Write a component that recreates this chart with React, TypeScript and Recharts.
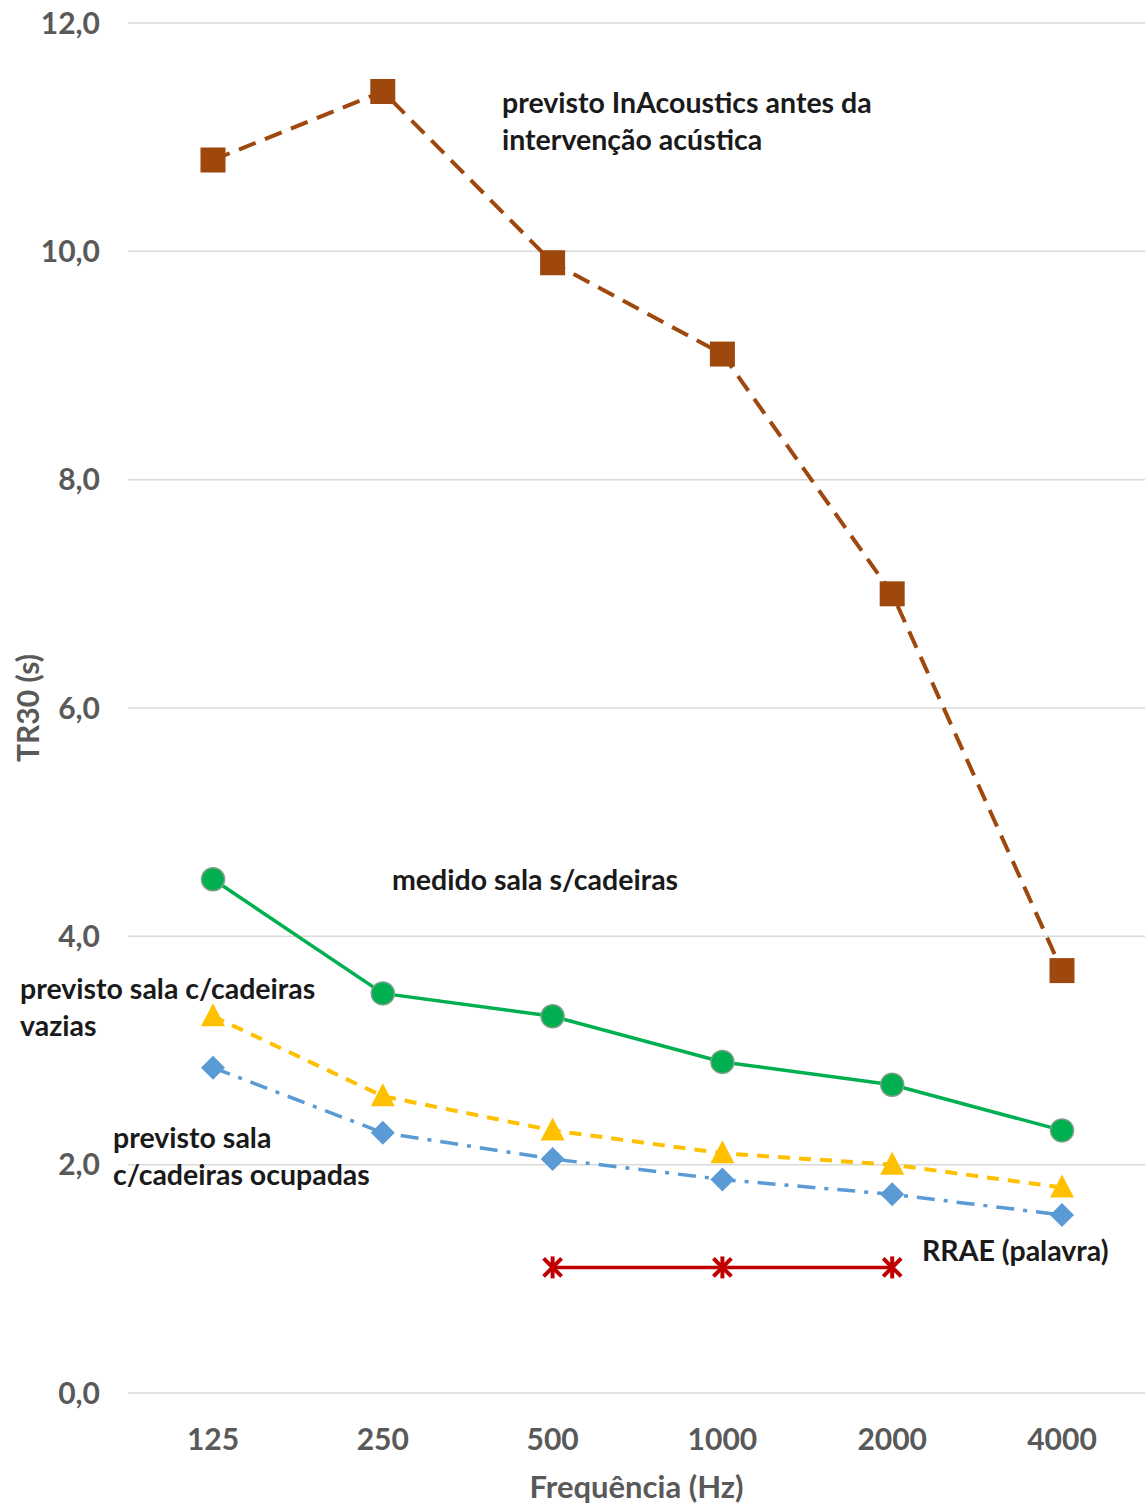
import React from 'react';
import { LineChart, Line, XAxis, YAxis, CartesianGrid, Customized } from 'recharts';

const FREQS = ['125', '250', '500', '1000', '2000', '4000'];
const ANTES = [10.8, 11.4, 9.9, 9.1, 7.0, 3.7];
const MEDIDO = [4.5, 3.5, 3.3, 2.9, 2.7, 2.3];
const VAZIAS = [3.3, 2.6, 2.3, 2.1, 2.0, 1.8];
const OCUPADAS = [2.85, 2.28, 2.05, 1.87, 1.74, 1.56];
const RRAE = [null, null, 1.1, 1.1, 1.1, null];
const Y_TICKS = [0, 2, 4, 6, 8, 10, 12];

const data = FREQS.map((f, i) => ({
  freq: f,
  antes: ANTES[i],
  medido: MEDIDO[i],
  vazias: VAZIAS[i],
  ocupadas: OCUPADAS[i],
  rrae: RRAE[i],
}));

const FONT = 'Lato, "Open Sans", sans-serif';
const GREY = '#595959';

const SquareDot = (props: any) => {
  const { cx, cy } = props;
  if (cx == null || cy == null) return null;
  return <rect x={cx - 12.5} y={cy - 12.5} width={25} height={25} fill="#9E480E" />;
};
const CircleDot = (props: any) => {
  const { cx, cy } = props;
  if (cx == null || cy == null) return null;
  return <circle cx={cx} cy={cy} r={11.5} fill="#00B050" stroke="#7f9f88" strokeWidth={1.5} />;
};
const TriangleDot = (props: any) => {
  const { cx, cy } = props;
  if (cx == null || cy == null) return null;
  return <polygon points={`${cx},${cy - 13} ${cx + 12},${cy + 10} ${cx - 12},${cy + 10}`} fill="#FFC000" />;
};
const DiamondDot = (props: any) => {
  const { cx, cy } = props;
  if (cx == null || cy == null) return null;
  return <polygon points={`${cx},${cy - 12} ${cx + 12},${cy} ${cx},${cy + 12} ${cx - 12},${cy}`} fill="#5B9BD5" />;
};
const StarDot = (props: any) => {
  const { cx, cy } = props;
  if (cx == null || cy == null) return null;
  return (
    <g stroke="#C00000" strokeWidth={4}>
      <line x1={cx - 9} y1={cy - 9} x2={cx + 9} y2={cy + 9} />
      <line x1={cx - 9} y1={cy + 9} x2={cx + 9} y2={cy - 9} />
      <line x1={cx} y1={cy - 11} x2={cx} y2={cy + 11} />
    </g>
  );
};

// y axis title, centred on the plot height
const YTitle = (props: any) => {
  const { viewBox } = props;
  const cy = viewBox.y + viewBox.height / 2;
  return (
    <text
      x={27}
      y={cy}
      transform={`rotate(-90, 27, ${cy})`}
      textAnchor="middle"
      dominantBaseline="central"
      fill={GREY}
      fontSize={30}
      fontWeight={700}
      fontFamily={FONT}
    >
      TR30 (s)
    </text>
  );
};

// series annotations, placed where the original puts them
const Notes = () => {
  const s = { fontFamily: FONT, fontSize: 28.5, fontWeight: 700, fill: '#1a1a1a' } as const;
  return (
    <g>
      <text x={502} y={113} {...s}>previsto InAcoustics antes da</text>
      <text x={502} y={150} {...s}>intervenção acústica</text>
      <text x={392} y={890} {...s}>medido sala s/cadeiras</text>
      <text x={20} y={999} {...s}>previsto sala c/cadeiras</text>
      <text x={20} y={1036} {...s}>vazias</text>
      <text x={113} y={1148} {...s}>previsto sala</text>
      <text x={113} y={1185} {...s}>c/cadeiras ocupadas</text>
      <text x={922} y={1261} {...s}>RRAE (palavra)</text>
    </g>
  );
};

const App: React.FC = () => {
  return (
    <div style={{ position: 'absolute', left: 0, top: 0, background: '#fff' }}>
      <LineChart width={1145} height={1504} data={data} margin={{ top: 23, right: 0, left: 40, bottom: 0 }}>
        <CartesianGrid vertical={false} stroke="#D9D9D9" strokeWidth={1.5} />
        <XAxis
          dataKey="freq"
          height={111}
          padding={{ left: 85, right: 83 }}
          axisLine={false}
          tickLine={false}
          tickSize={0}
          tickMargin={36}
          tick={{ fill: GREY, fontSize: 30, fontWeight: 700, fontFamily: FONT }}
          label={{ value: 'Frequência (Hz)', position: 'insideBottom', offset: 6, fill: GREY, fontSize: 31, fontWeight: 700, fontFamily: FONT }}
        />
        <YAxis
          domain={[0, 12]}
          ticks={Y_TICKS}
          width={88}
          axisLine={false}
          tickLine={false}
          tickSize={0}
          tickMargin={28}
          tickFormatter={(v: number) => v.toFixed(1).replace('.', ',')}
          tick={{ fill: GREY, fontSize: 30, fontWeight: 700, fontFamily: FONT }}
          label={<YTitle />}
        />
        <Line dataKey="antes" stroke="#9E480E" strokeWidth={4} strokeDasharray="18 10" dot={<SquareDot />} isAnimationActive={false} />
        <Line dataKey="medido" stroke="#00B050" strokeWidth={3.5} dot={<CircleDot />} isAnimationActive={false} />
        <Line dataKey="vazias" stroke="#FFC000" strokeWidth={4} strokeDasharray="12 9" dot={<TriangleDot />} isAnimationActive={false} />
        <Line dataKey="ocupadas" stroke="#5B9BD5" strokeWidth={3.5} strokeDasharray="18 9 4 9" dot={<DiamondDot />} isAnimationActive={false} />
        <Line dataKey="rrae" stroke="#C00000" strokeWidth={3.5} dot={<StarDot />} isAnimationActive={false} />
        <Customized component={Notes} />
      </LineChart>
    </div>
  );
};

export default App;
